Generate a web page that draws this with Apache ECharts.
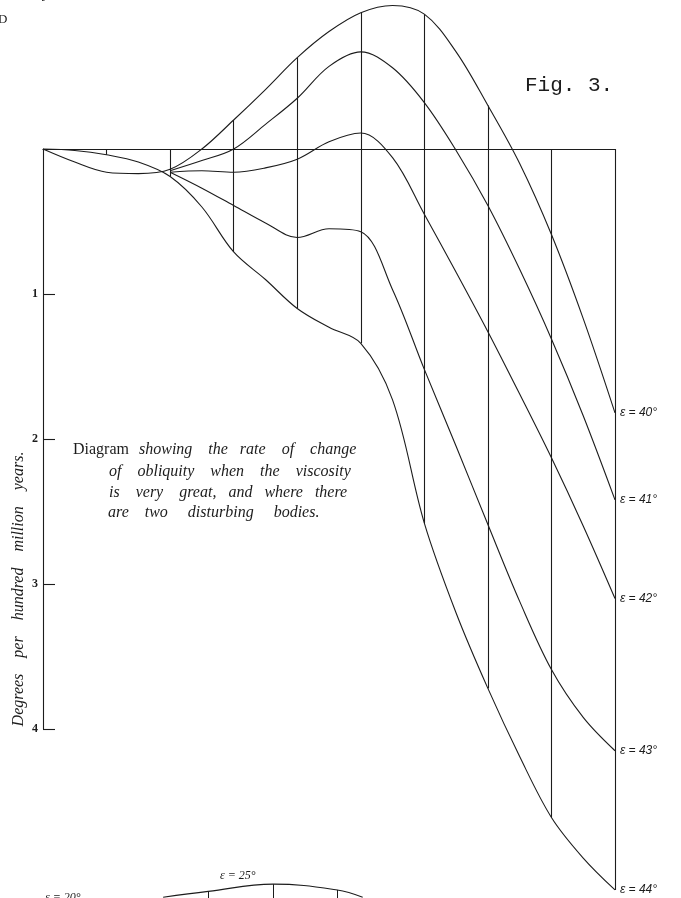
<!DOCTYPE html>
<html>
<head>
<meta charset="utf-8">
<title>Fig. 3</title>
<script src="https://cdn.jsdelivr.net/npm/echarts@6/dist/echarts.min.js"></script>
<style>
  html, body { margin: 0; padding: 0; background: #fff; }
  #chart { width: 681px; height: 898px; }
</style>
</head>
<body>
<div id="chart"></div>
<script>
// obliquity (degrees) along the axis, one reading every 5 degrees
const xDeg = [0, 5, 10, 15, 20, 25, 30, 35, 40, 45, 50, 55, 60, 65, 70, 75, 80, 85, 90];

// rate of change, degrees per hundred million years (downwards positive)
const eps40 = [0, 0.09, 0.16, 0.17, 0.14, 0.00, -0.20, -0.41, -0.63, -0.81, -0.94, -0.99, -0.93, -0.67, -0.30, 0.10, 0.59, 1.17, 1.82];
const eps41 = [0, 0.09, 0.16, 0.17, 0.15, 0.08, 0.00, -0.17, -0.35, -0.57, -0.67, -0.56, -0.32, 0.01, 0.39, 0.83, 1.31, 1.84, 2.42];
const eps42 = [0, 0.09, 0.16, 0.17, 0.16, 0.15, 0.16, 0.13, 0.07, -0.05, -0.11, 0.06, 0.45, 0.85, 1.26, 1.69, 2.13, 2.60, 3.10];
const eps43 = [0, 0.09, 0.16, 0.17, 0.16, 0.27, 0.39, 0.51, 0.61, 0.55, 0.57, 0.97, 1.52, 2.05, 2.59, 3.12, 3.59, 3.92, 4.15];
const eps44 = [0, 0.01, 0.04, 0.09, 0.19, 0.40, 0.71, 0.90, 1.10, 1.23, 1.34, 1.73, 2.58, 3.20, 3.72, 4.19, 4.61, 4.89, 5.11];

const curveNames = ['ε = 40°', 'ε = 41°', 'ε = 42°', 'ε = 43°', 'ε = 44°'];
// 41°-43° run on the 40° curve until they fan out here
const curveStart = [0, 20, 20, 20, 0];
const yTicks = [1, 2, 3, 4];
const ordinateStep = 10;
const yMin = -149 / 145;
const yMax = 749 / 145;

// bits of the neighbouring figures cut by the page edge
const fragX = [18.9, 26.0, 36.2, 46.3, 50.3];
const fragY = [5.16, 5.12, 5.07, 5.11, 5.16];
const fragTicks = [1, 2, 3];
const cornerX = [-6.8, -3.6, 0.3];
const cornerY = [-0.95, -0.985, -1.03];

const ink = '#1c1c1c';
const curves = [eps40, eps41, eps42, eps43, eps44];

// ordinates at every 10 degrees, from the upper curve (or the axis) to the lowest curve
const ordinates = [[{ coord: [0, 0] }, { coord: [0, yTicks[yTicks.length - 1]] }]];
xDeg.forEach((x, i) => {
  if (x > 0 && x % ordinateStep === 0) {
    ordinates.push([{ coord: [x, Math.min(0, eps40[i])] }, { coord: [x, eps44[i]] }]);
  }
});

const fragTickLines = fragTicks.map(i => [{ coord: [fragX[i], fragY[i]] }, { coord: [fragX[i], yMax] }]);

const chart = echarts.init(document.getElementById('chart'));

const curveSeries = curves.map((arr, k) => ({
  name: curveNames[k],
  type: 'line',
  data: xDeg.map((x, i) => [x, arr[i]]).filter(p => p[0] >= curveStart[k]),
  smooth: 0.35,
  symbol: 'none',
  clip: false,
  lineStyle: { color: ink, width: 1.1 },
  endLabel: {
    show: true,
    formatter: curveNames[k],
    distance: 5,
    color: ink,
    fontSize: 12,
    fontStyle: 'italic',
    fontFamily: 'Liberation Sans'
  },
  z: 3
}));

const captionFont = 'italic 16px "Liberation Serif"';

const option = {
  backgroundColor: '#fff',
  animation: false,
  grid: { left: 43, right: 66, top: 0, bottom: 0, outerBoundsMode: 'none' },
  xAxis: {
    type: 'value',
    position: 'top',
    min: 0,
    max: 90,
    interval: 10,
    axisLine: { onZero: true, lineStyle: { color: ink, width: 1.2 } },
    axisTick: { show: false },
    splitLine: { show: false },
    axisLabel: {
      formatter: '{value}°',
      margin: 3,
      padding: [0, 0, 0, 6],
      color: ink,
      fontSize: 11,
      fontStyle: 'italic',
      fontFamily: 'Liberation Serif'
    }
  },
  yAxis: {
    type: 'value',
    inverse: true,
    min: yMin,
    max: yMax,
    axisLine: { show: false },
    splitLine: { show: false },
    axisTick: {
      show: true,
      inside: true,
      length: 12,
      customValues: yTicks,
      lineStyle: { color: ink, width: 1.1 }
    },
    axisLabel: {
      customValues: yTicks,
      margin: 5,
      color: ink,
      fontSize: 12,
      fontWeight: 'bold',
      fontFamily: 'Liberation Serif'
    }
  },
  series: [
    ...curveSeries,
    {
      name: 'ordinates',
      type: 'line',
      data: [],
      symbol: 'none',
      markLine: {
        silent: true,
        symbol: ['none', 'none'],
        label: { show: false },
        lineStyle: { color: ink, width: 1.1, type: 'solid' },
        data: ordinates
      }
    },
    {
      name: 'next figure',
      type: 'line',
      data: fragX.map((x, i) => [x, fragY[i]]),
      smooth: 0.4,
      symbol: 'none',
      clip: false,
      lineStyle: { color: ink, width: 1.1 },
      markLine: {
        silent: true,
        symbol: ['none', 'none'],
        label: { show: false },
        lineStyle: { color: ink, width: 1, type: 'solid' },
        data: fragTickLines
      }
    },
    {
      name: 'previous figure',
      type: 'line',
      data: cornerX.map((x, i) => [x, cornerY[i]]),
      smooth: 0.4,
      symbol: 'none',
      clip: false,
      lineStyle: { color: ink, width: 1.1 }
    }
  ],
  graphic: [
    {
      type: 'text', x: 525, y: 85,
      style: { text: 'Fig. 3.', font: '21px "Liberation Mono"', fill: ink, verticalAlign: 'middle' }
    },
    {
      type: 'text', x: 73, y: 450,
      style: {
        text: '{u|Diagram}   {i|showing    the   rate    of    change}',
        verticalAlign: 'middle',
        rich: {
          u: { font: '16px "Liberation Serif"', fill: ink },
          i: { font: captionFont, fill: ink }
        }
      }
    },
    {
      type: 'text', x: 109, y: 472,
      style: { text: 'of    obliquity    when    the    viscosity', font: captionFont, fill: ink, verticalAlign: 'middle' }
    },
    {
      type: 'text', x: 109, y: 493,
      style: { text: 'is    very    great,   and   where   there', font: captionFont, fill: ink, verticalAlign: 'middle' }
    },
    {
      type: 'text', x: 108, y: 513,
      style: { text: 'are    two     disturbing     bodies.', font: captionFont, fill: ink, verticalAlign: 'middle' }
    },
    {
      type: 'text', x: 19, y: 589, rotation: Math.PI / 2,
      style: {
        text: 'Degrees    per    hundred    million    years.',
        font: 'italic 16px "Liberation Serif"', fill: ink,
        align: 'center', verticalAlign: 'middle'
      }
    },
    {
      type: 'text', x: 220, y: 876,
      style: { text: 'ε = 25°', font: 'italic 12px "Liberation Serif"', fill: ink, verticalAlign: 'middle' }
    },
    {
      type: 'text', x: 45, y: 898,
      style: { text: 'ε = 20°', font: 'italic 12px "Liberation Serif"', fill: ink, verticalAlign: 'middle' }
    },
    {
      type: 'text', x: -2, y: 20,
      style: { text: 'D', font: '13px "Liberation Serif"', fill: ink, verticalAlign: 'middle' }
    }
  ]
};

chart.setOption(option);
</script>
</body>
</html>
